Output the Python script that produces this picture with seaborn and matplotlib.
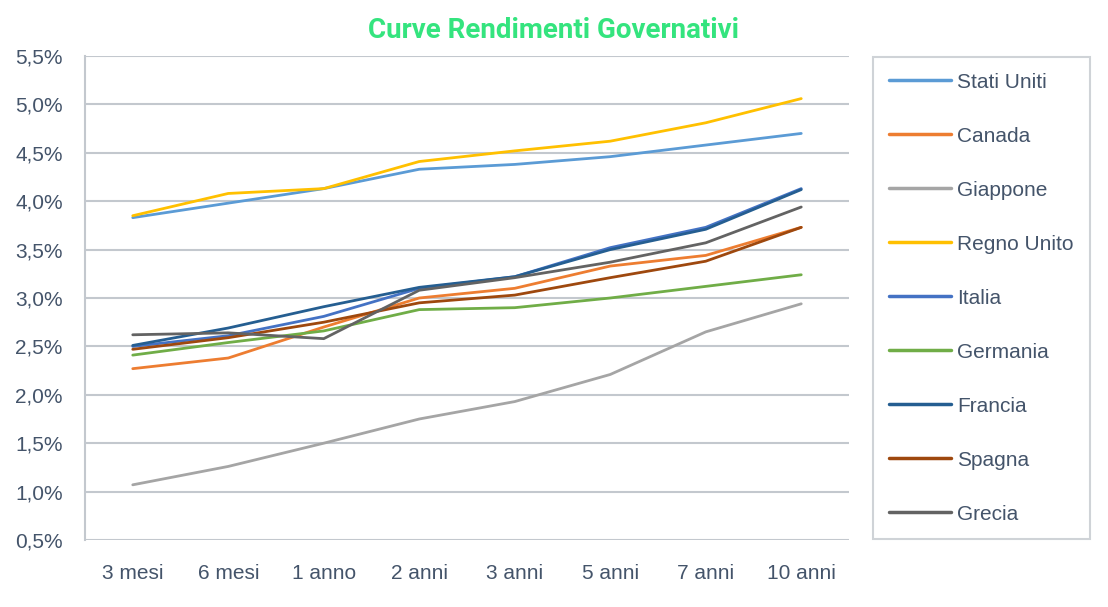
import matplotlib
matplotlib.use('Agg')
import matplotlib.pyplot as plt
import seaborn as sns
import pandas as pd
from matplotlib.ticker import FuncFormatter

# scadenze (asse x)
scadenze = ['3 mesi', '6 mesi', '1 anno', '2 anni', '3 anni', '5 anni', '7 anni', '10 anni']

# rendimenti in %
stati_uniti = [3.83, 3.98, 4.13, 4.33, 4.38, 4.46, 4.58, 4.70]
canada = [2.27, 2.38, 2.70, 3.00, 3.10, 3.33, 3.44, 3.73]
giappone = [1.07, 1.26, 1.50, 1.75, 1.93, 2.21, 2.65, 2.94]
regno_unito = [3.85, 4.08, 4.13, 4.41, 4.52, 4.62, 4.81, 5.06]
italia = [2.50, 2.61, 2.81, 3.10, 3.22, 3.52, 3.73, 4.13]
germania = [2.41, 2.54, 2.66, 2.88, 2.90, 3.00, 3.12, 3.24]
francia = [2.51, 2.69, 2.91, 3.11, 3.22, 3.50, 3.71, 4.12]
spagna = [2.47, 2.59, 2.75, 2.95, 3.03, 3.21, 3.38, 3.73]
grecia = [2.62, 2.64, 2.58, 3.08, 3.21, 3.37, 3.57, 3.94]

paesi = ['Stati Uniti', 'Canada', 'Giappone', 'Regno Unito', 'Italia',
         'Germania', 'Francia', 'Spagna', 'Grecia']
serie = [stati_uniti, canada, giappone, regno_unito, italia,
         germania, francia, spagna, grecia]
colori = ['#5B9BD5', '#ED7D31', '#A5A5A5', '#FFC000', '#4472C4',
          '#70AD47', '#255E91', '#9E480E', '#636363']

# long format per seaborn
rows = []
for p, vals in zip(paesi, serie):
    for s, v in zip(scadenze, vals):
        rows.append({'Scadenza': s, 'Paese': p, 'Rendimento': v})
df = pd.DataFrame(rows)

sns.set_style('white')
plt.rcParams['font.family'] = ['Liberation Sans', 'DejaVu Sans']

grid_col = '#C3C8CE'
text_col = '#44546A'

fig = plt.figure(figsize=(11.08, 6.07), dpi=100)
ax = fig.add_axes([85 / 1108, 1 - 540 / 607, (849 - 85) / 1108, (540 - 56) / 607])

sns.lineplot(data=df, x='Scadenza', y='Rendimento', hue='Paese',
             hue_order=paesi, palette=colori, linewidth=2.0, ax=ax,
             sort=False)

ax.set_xlim(-0.5, 7.5)
ax.set_ylim(0.5, 5.5)
ax.set_yticks([0.5 + 0.5 * i for i in range(11)])
ax.yaxis.set_major_formatter(FuncFormatter(lambda v, _: '{:.1f}%'.format(v).replace('.', ',')))
ax.grid(axis='y', color=grid_col, linewidth=1.5)
ax.set_axisbelow(True)
for side in ['top', 'right', 'bottom']:
    ax.spines[side].set_visible(False)
ax.spines['left'].set_color(grid_col)
ax.spines['left'].set_linewidth(1.5)
ax.tick_params(axis='both', length=0, labelsize=15, colors=text_col)
ax.tick_params(axis='y', pad=16)
ax.tick_params(axis='x', pad=17)
ax.set_xlabel('')
ax.set_ylabel('')

# titolo
fig.text(0.5, 1 - 30 / 607, 'Curve Rendimenti Governativi', ha='center', va='center',
         fontsize=20, fontweight='bold', color='#34E47E', family='Roboto')

# legenda a destra
leg = ax.legend(loc='upper left', bbox_to_anchor=(873 / 1108, 1 - 57 / 607),
                bbox_transform=fig.transFigure, borderaxespad=0, frameon=True,
                fancybox=False, fontsize=15, handlelength=3.0, handletextpad=0.3,
                labelspacing=1.68, borderpad=0.75)
leg.get_frame().set_edgecolor(grid_col)
leg.get_frame().set_linewidth(1.5)
for t in leg.get_texts():
    t.set_color(text_col)
for l in leg.get_lines():
    l.set_linewidth(2.5)

fig.savefig('out.png', dpi=100)
